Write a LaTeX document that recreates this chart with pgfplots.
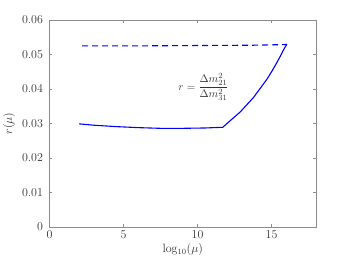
\documentclass[border=0pt]{standalone}
\usepackage{pgfplots}
\pgfplotsset{compat=1.18}
\begin{document}
\begin{tikzpicture}
\begin{axis}[
  name=ax,
  scale only axis,
  width=266.5pt, height=207pt,
  xmin=0, xmax=18, ymin=0, ymax=0.06,
  xtick={0,5,10,15}, ytick={0,0.01,0.02,0.03,0.04,0.05,0.06},
  scaled y ticks=false,
  yticklabel style={/pgf/number format/fixed,/pgf/number format/precision=2, xshift=-3pt},
  tick label style={font=\fontsize{12}{14}\selectfont, text=black!80},
  label style={font=\fontsize{12}{14}\selectfont, text=black!80},
  axis line style={black!45},
  major tick style={black!45},
  tick align=inside,
  major tick length=3pt,
  xlabel={$\log_{10}(\mu)$},
  ylabel={$r(\mu)$},
  xlabel style={yshift=2pt},
  ylabel style={yshift=0pt},
]
\addplot[blue, line width=1.1pt] coordinates {
 (2.0,0.0299) (3.0,0.0295) (4.5,0.0291) (6.0,0.0288) (7.5,0.0286) (9.0,0.0286) (10.5,0.0287) (11.70,0.0289)
 (12.2,0.0308) (12.87,0.0333) (13.3,0.0353) (13.77,0.0375) (14.2,0.0400) (14.68,0.0428) (15.0,0.0450) (15.35,0.0476) (15.6,0.0496) (15.8,0.0513) (16.03,0.0530)
};
\addplot[blue, line width=1.1pt, dash pattern=on 6pt off 4pt] coordinates {
 (2.2,0.0525) (6,0.0525) (10,0.0526) (14,0.0527) (16.03,0.0529)
};
\node[text=black!80, font=\fontsize{11}{13}\selectfont] at (axis cs:10.4,0.0405) {$\displaystyle r=\frac{\Delta m^2_{21}}{\Delta m^2_{31}}$};
\end{axis}
\pgfresetboundingbox
\path ([xshift=-49.5pt,yshift=-36pt]ax.south west) rectangle ([xshift=34pt,yshift=20pt]ax.north east);
\end{tikzpicture}
\end{document}
